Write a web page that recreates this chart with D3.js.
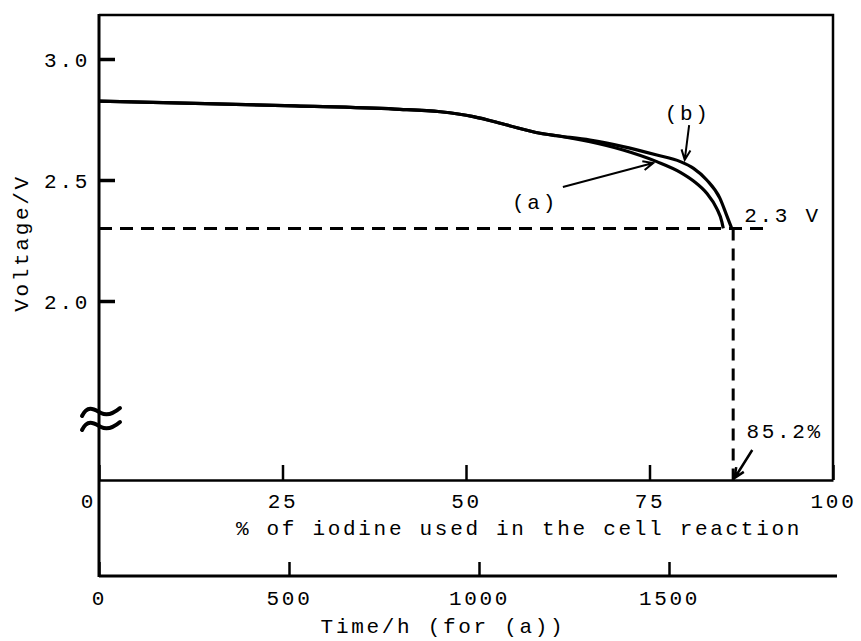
<!DOCTYPE html>
<html>
<head>
<meta charset="utf-8">
<script src="https://cdn.jsdelivr.net/npm/d3@7"></script>
<style>
  body { margin: 0; background: #fff; }
  text { font-family: "Liberation Mono", "DejaVu Sans Mono", monospace; font-size: 21px; letter-spacing: 2.7px; fill: #000; }
</style>
</head>
<body>
<div id="chart"></div>
<script>
"use strict";
// discharge curves, voltage vs % iodine used

// shared part of both curves (% iodine, volts)
var sharedPct  = [0, 13.1, 26.7, 40.3, 46.5, 51.0, 55.6, 60.1, 62.4];
var sharedVolt = [2.826, 2.817, 2.806, 2.793, 2.782, 2.762, 2.727, 2.693, 2.683];
// curve (b), upper
var bPct  = [66.9, 71.4, 76.0, 79.2, 81.0, 82.8, 84.6, 85.5, 86.2];
var bVolt = [2.665, 2.638, 2.603, 2.576, 2.548, 2.500, 2.424, 2.355, 2.300];
// curve (a), lower
var aPct  = [66.9, 71.4, 76.0, 79.2, 81.0, 82.8, 84.15, 84.85, 85.05];
var aVolt = [2.658, 2.624, 2.576, 2.532, 2.496, 2.445, 2.383, 2.328, 2.300];

var cutVolt = 2.3;     // end-of-discharge voltage
var cutPct = 86.4;     // where the dashed drop line sits in the drawing
var dashEndPct = 91.1;

var voltTicks = [2.0, 2.5, 3.0];
var pctTicks = [0, 25, 50, 75, 100];
var timeTicks = [0, 500, 1000, 1500];

// layout
var svgWidth = 861, svgHeight = 641;
var marginLeft = 99, marginTop = 15;
var width = 734, height = 465;

var svg = d3.select("#chart").append("svg")
    .attr("width", svgWidth)
    .attr("height", svgHeight);

var g = svg.append("g").attr("transform", "translate(" + marginLeft + "," + marginTop + ")");

var x = d3.scaleLinear().domain([0, 100]).range([0, width]);
var y = d3.scaleLinear().domain([2.0, 3.0]).range([286, 44]);
var t = d3.scaleLinear().domain([0, 1500]).range([0, 570]);
var timeEnd = t.invert(738);

// frame: top + right border
g.append("path")
    .attr("d", "M0,0H" + width + "V" + height)
    .attr("fill", "none").attr("stroke", "#000").attr("stroke-width", 2.5);

// left axis line runs down to the time axis
g.append("line")
    .attr("x1", 0).attr("x2", 0).attr("y1", -1).attr("y2", 562)
    .attr("stroke", "#000").attr("stroke-width", 3);

// voltage ticks, pointing inward
var yAxis = g.append("g")
    .call(d3.axisLeft(y).tickValues(voltTicks).tickFormat(d3.format(".1f")).tickSizeInner(-16).tickSizeOuter(0));
yAxis.attr("font-family", null).attr("font-size", null);
yAxis.select(".domain").remove();
yAxis.selectAll("line").attr("stroke-width", 3.5);
yAxis.selectAll("text").attr("x", -9).attr("dy", "0.34em");

// axis break mark
var brk = g.append("g").attr("transform", "translate(0," + (height - 60) + ")");
[-7, 7].forEach(function (dy) {
    brk.append("path")
        .attr("d", "M-17," + (dy + 3) + "C-11," + (dy - 9) + " -4," + (dy - 3) + " 2," + (dy) +
              "S14," + (dy + 1) + " 21," + (dy - 5))
        .attr("fill", "none").attr("stroke", "#000").attr("stroke-width", 4).attr("stroke-linecap", "round");
});

// % iodine axis
var pAxis = g.append("g").attr("transform", "translate(0," + height + ")")
    .call(d3.axisBottom(x).tickValues(pctTicks).tickSizeInner(-15).tickSizeOuter(0));
pAxis.attr("font-family", null).attr("font-size", null);
pAxis.select(".domain").attr("stroke-width", 2.5);
pAxis.selectAll("line").attr("stroke-width", 2.5);
pAxis.selectAll("text").attr("y", 28).attr("dy", 0);
pAxis.selectAll(".tick").filter(function (d) { return d === 0; })
    .select("text").attr("x", -11);

g.append("text")
    .attr("x", 420).attr("y", 520)
    .attr("text-anchor", "middle")
    .text("% of iodine used in the cell reaction");

// time axis
var tAxis = g.append("g").attr("transform", "translate(0,561)")
    .call(d3.axisBottom(t).tickValues(timeTicks).tickFormat(d3.format("d")).tickSizeInner(-14).tickSizeOuter(0));
tAxis.attr("font-family", null).attr("font-size", null);
tAxis.select(".domain").attr("d", "M0,0H" + t(timeEnd)).attr("stroke-width", 3);
tAxis.selectAll("line").attr("stroke-width", 2.5);
tAxis.selectAll("text").attr("y", 29).attr("dy", 0);

g.append("text")
    .attr("x", 344).attr("y", 618)
    .attr("text-anchor", "middle")
    .text("Time/h (for (a))");

// y title
g.append("text")
    .attr("transform", "translate(-71,228) rotate(-90)")
    .attr("text-anchor", "middle")
    .text("Voltage/V");

// dashed guides
g.append("line")
    .attr("x1", 0).attr("x2", x(dashEndPct))
    .attr("y1", y(cutVolt)).attr("y2", y(cutVolt))
    .attr("stroke", "#000").attr("stroke-width", 3).attr("stroke-dasharray", "13,8");
g.append("line")
    .attr("x1", x(cutPct)).attr("x2", x(cutPct))
    .attr("y1", y(cutVolt)).attr("y2", height)
    .attr("stroke", "#000").attr("stroke-width", 3).attr("stroke-dasharray", "12,8");

// curves
var line = d3.line()
    .x(function (d) { return x(d[0]); })
    .y(function (d) { return y(d[1]); })
    .curve(d3.curveMonotoneX);

function pts(p, v) { return p.map(function (d, i) { return [d, v[i]]; }); }
var shared = pts(sharedPct, sharedVolt);

[pts(aPct, aVolt), pts(bPct, bVolt)].forEach(function (tail) {
    g.append("path")
        .datum(shared.concat(tail))
        .attr("d", line)
        .attr("fill", "none").attr("stroke", "#000").attr("stroke-width", 3.2);
});

// annotations
function arrow(x1, y1, x2, y2, sw) {
    var a = Math.atan2(y2 - y1, x2 - x1), L = 11, s = 0.42;
    g.append("path")
        .attr("d", "M" + x1 + "," + y1 + "L" + x2 + "," + y2 +
            "M" + (x2 - L * Math.cos(a - s)) + "," + (y2 - L * Math.sin(a - s)) +
            "L" + x2 + "," + y2 +
            "L" + (x2 - L * Math.cos(a + s)) + "," + (y2 - L * Math.sin(a + s)))
        .attr("fill", "none").attr("stroke", "#000").attr("stroke-width", sw);
}
arrow(x(63.2), y(2.471), x(75.5), y(2.570), 2);
arrow(x(80.4), y(2.727), x(79.8), y(2.583), 2);
arrow(x(89.0), height - 30, x(86.6), height - 2, 2.5);

g.append("text").attr("x", x(59.4)).attr("y", y(2.380)).attr("text-anchor", "middle").text("(a)");
g.append("text").attr("x", x(80.2)).attr("y", y(2.748)).attr("text-anchor", "middle").text("(b)");
g.append("text").attr("x", x(87.9)).attr("y", y(2.326)).text("2.3 V");
g.append("text").attr("x", x(88.2)).attr("y", height - 42).text("85.2%");
</script>
</body>
</html>
